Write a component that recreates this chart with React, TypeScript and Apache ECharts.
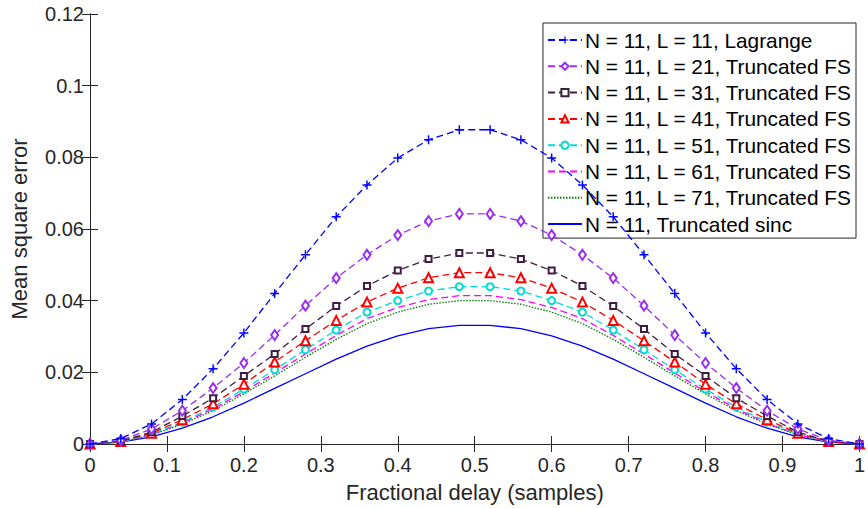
import React, { useEffect, useRef } from "react";
import * as echarts from "echarts";

const delays = [0, 0.04, 0.08, 0.12, 0.16, 0.2, 0.24, 0.28, 0.32, 0.36, 0.4, 0.44, 0.48, 0.52, 0.56, 0.6, 0.64, 0.68, 0.72, 0.76, 0.8, 0.84, 0.88, 0.92, 0.96, 1];

const lagrange = [0, 0.0015, 0.0056, 0.0124, 0.021, 0.031, 0.042, 0.0528, 0.0634, 0.0723, 0.0798, 0.0849, 0.0877, 0.0877, 0.0849, 0.0798, 0.0723, 0.0634, 0.0528, 0.042, 0.031, 0.021, 0.0124, 0.0056, 0.0015, 0];
const fs21 = [0, 0.001, 0.0042, 0.0093, 0.0156, 0.0226, 0.0304, 0.0386, 0.0463, 0.0528, 0.0583, 0.0622, 0.0642, 0.0642, 0.0622, 0.0583, 0.0528, 0.0463, 0.0386, 0.0304, 0.0226, 0.0156, 0.0093, 0.0042, 0.001, 0];
const fs31 = [0, 0.0008, 0.0033, 0.0078, 0.0128, 0.019, 0.0251, 0.0321, 0.0385, 0.0441, 0.0484, 0.0516, 0.0533, 0.0533, 0.0516, 0.0484, 0.0441, 0.0385, 0.0321, 0.0251, 0.019, 0.0128, 0.0078, 0.0033, 0.0008, 0];
const fs41 = [0, 0.0007, 0.003, 0.0068, 0.0112, 0.0167, 0.0229, 0.0288, 0.0345, 0.0396, 0.0435, 0.0464, 0.0478, 0.0478, 0.0464, 0.0435, 0.0396, 0.0345, 0.0288, 0.0229, 0.0167, 0.0112, 0.0068, 0.003, 0.0007, 0];
const fs51 = [0, 0.0006, 0.0028, 0.0061, 0.0103, 0.0153, 0.0207, 0.0263, 0.0318, 0.0368, 0.04, 0.0427, 0.0439, 0.0439, 0.0427, 0.04, 0.0368, 0.0318, 0.0263, 0.0207, 0.0153, 0.0103, 0.0061, 0.0028, 0.0006, 0];
const fs61 = [0, 0.0006, 0.0026, 0.0058, 0.0098, 0.0146, 0.0198, 0.0251, 0.0303, 0.035, 0.0381, 0.0403, 0.0414, 0.0414, 0.0403, 0.0381, 0.035, 0.0303, 0.0251, 0.0198, 0.0146, 0.0098, 0.0058, 0.0026, 0.0006, 0];
const fs71 = [0, 0.0006, 0.0025, 0.0055, 0.0093, 0.014, 0.019, 0.0242, 0.0292, 0.0336, 0.0368, 0.039, 0.04, 0.04, 0.039, 0.0368, 0.0336, 0.0292, 0.0242, 0.019, 0.014, 0.0093, 0.0055, 0.0025, 0.0006, 0];
const sinc = [0, 0.0005, 0.002, 0.0044, 0.0076, 0.0114, 0.0155, 0.0196, 0.0237, 0.0273, 0.0302, 0.0322, 0.0331, 0.0331, 0.0322, 0.0302, 0.0273, 0.0237, 0.0196, 0.0155, 0.0114, 0.0076, 0.0044, 0.002, 0.0005, 0];

const names = [
  "N = 11, L = 11, Lagrange",
  "N = 11, L = 21, Truncated FS",
  "N = 11, L = 31, Truncated FS",
  "N = 11, L = 41, Truncated FS",
  "N = 11, L = 51, Truncated FS",
  "N = 11, L = 61, Truncated FS",
  "N = 11, L = 71, Truncated FS",
  "N = 11, Truncated sinc",
];

const FONT = "'Liberation Sans', Arial, Helvetica, sans-serif";
const AX = "#262626";
const PLUS = "path://M4.2,0h1.6v4.2h4.2v1.6h-4.2v4.2h-1.6v-4.2h-4.2v-1.6h4.2z";

export default function App() {
  const ref = useRef<HTMLDivElement>(null);
  useEffect(() => {
    if (!ref.current) return;
    const chart = echarts.init(ref.current, null, { renderer: "svg" });
    const mk = (vals: number[]) => vals.map((v, i) => [delays[i], v]);
    const dash = [7, 4];
    const styles: any[] = [
      { color: "#0000ff", type: dash, symbol: PLUS, size: 9 },
      { color: "#9a2cf0", type: dash, symbol: "emptyDiamond", size: [7, 10] },
      { color: "#3f1f3f", type: dash, symbol: "emptyRect", size: 6 },
      { color: "#ff0000", type: dash, symbol: "emptyTriangle", size: 9 },
      { color: "#00dcd0", type: dash, symbol: "emptyCircle", size: 7 },
      { color: "#ff00ff", type: dash, symbol: "none", size: 0 },
      { color: "#008000", type: [1.5, 1.5], symbol: "none", size: 0 },
      { color: "#0000ff", type: "solid", symbol: "none", size: 0 },
    ];
    const data = [lagrange, fs21, fs31, fs41, fs51, fs61, fs71, sinc];
    const series = data.map((vals, k) => {
      const st = styles[k];
      const noSym = st.symbol === "none";
      return {
        name: names[k],
        type: "line",
        data: mk(vals),
        xAxisIndex: 0,
        yAxisIndex: 0,
        symbol: st.symbol,
        symbolSize: st.size,
        showSymbol: !noSym,
        clip: false,
        lineStyle: { color: st.color, width: 1.3, type: st.type },
        itemStyle: {
          color: st.color,
          borderColor: st.color,
          borderWidth: st.symbol === PLUS ? 0 : 1.2,
        },
        z: 10 - k,
      };
    });
    const legendData = names.map((n, k) =>
      styles[k].symbol === "none"
        ? { name: n, itemStyle: { opacity: 0, color: "rgba(0,0,0,0)", borderColor: "rgba(0,0,0,0)" } }
        : { name: n }
    );
    const axisCommon = {
      axisLine: { show: true, lineStyle: { color: AX, width: 1 } },
      axisTick: { show: true, inside: true, length: 8, lineStyle: { color: AX } },
      splitLine: { show: false },
    };
    chart.setOption({
      animation: false,
      backgroundColor: "#ffffff",
      textStyle: { fontFamily: FONT },
      grid: { left: 88, right: 2, top: 14, bottom: 63 },
      legend: {
        orient: "vertical",
        right: 12,
        top: 23,
        padding: [6, 4, 3, 4],
        itemGap: 4.3,
        itemWidth: 34,
        itemHeight: 9,
        backgroundColor: "#ffffff",
        borderColor: AX,
        borderWidth: 1,
        textStyle: { fontFamily: FONT, fontSize: 20.8, color: "#000000", padding: [0, 0, 0, -2], lineHeight: 22 },
        data: legendData,
      },
      xAxis: [
        {
          type: "value",
          min: 0,
          max: 1,
          interval: 0.1,
          ...axisCommon,
          axisLabel: { color: AX, fontSize: 20, margin: 11, fontFamily: FONT },
          name: "Fractional delay (samples)",
          nameLocation: "middle",
          nameGap: 37,
          nameTextStyle: { color: AX, fontSize: 22, fontFamily: FONT },
        },
        {
          type: "value",
          position: "top",
          min: 0,
          max: 1,
          interval: 0.1,
          ...axisCommon,
          axisLabel: { show: false },
        },
      ],
      yAxis: [
        {
          type: "value",
          min: 0,
          max: 0.12,
          interval: 0.02,
          ...axisCommon,
          axisLabel: { color: AX, fontSize: 20, margin: 6, fontFamily: FONT },
          name: "Mean square error",
          nameLocation: "middle",
          nameGap: 60,
          nameTextStyle: { color: AX, fontSize: 22, fontFamily: FONT },
        },
        {
          type: "value",
          position: "right",
          min: 0,
          max: 0.12,
          interval: 0.02,
          ...axisCommon,
          axisLabel: { show: false },
        },
      ],
      series,
    });
    return () => chart.dispose();
  }, []);
  return (
    <div
      ref={ref}
      style={{ position: "fixed", left: 0, top: 0, width: 868, height: 508, background: "#fff" }}
    />
  );
}
